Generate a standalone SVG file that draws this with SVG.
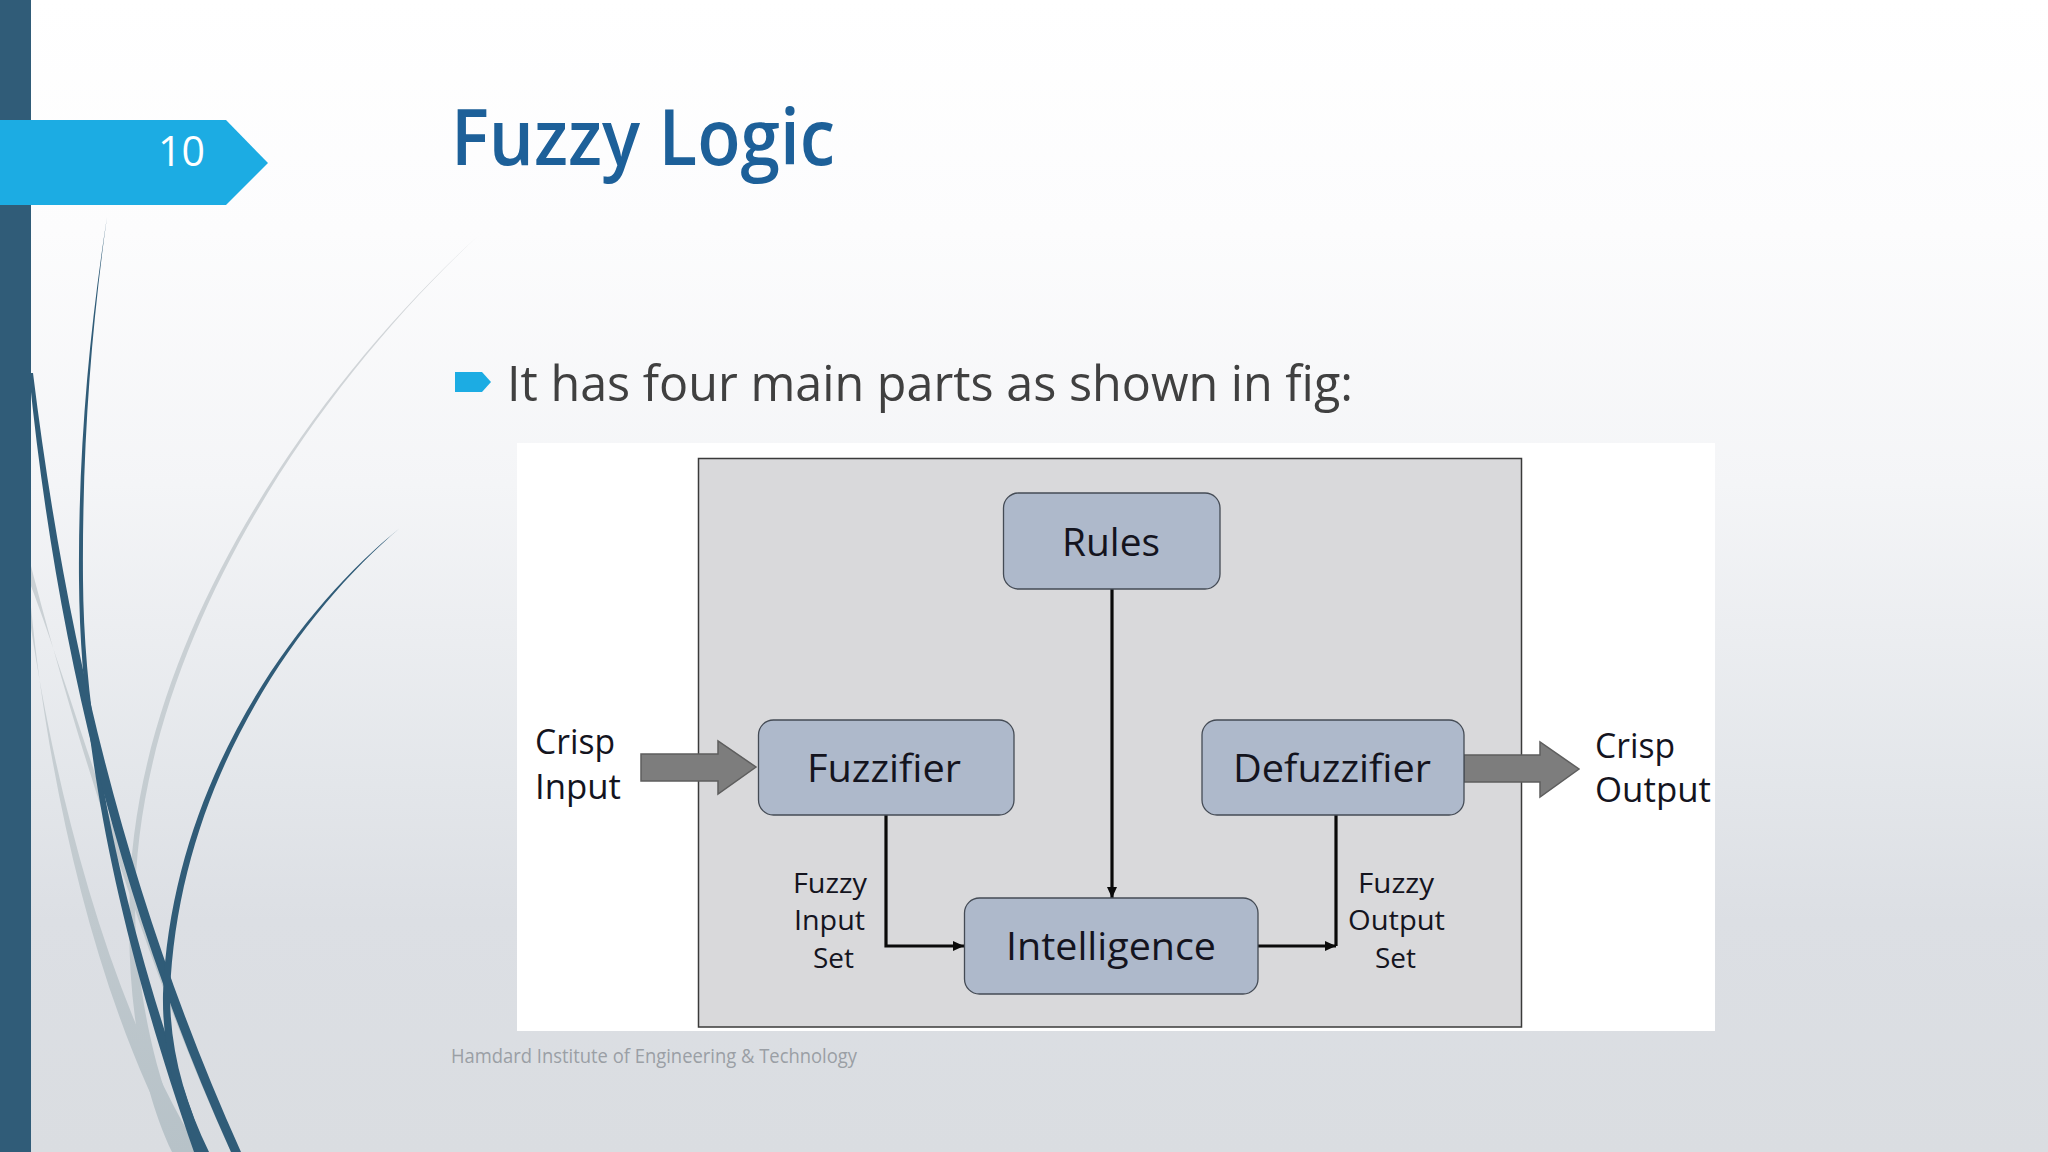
<svg xmlns="http://www.w3.org/2000/svg" width="2048" height="1152" viewBox="0 0 2048 1152">
<style>
text{font-family:"Open Sans","Noto Sans","Liberation Sans",sans-serif}
.box{fill:#aeb9cb;stroke:#444b55;stroke-width:1.3}
.lbl{fill:#14141e}
.big{font-size:38px}
.mid{font-size:34px}
.sm{font-size:28px}
.wire{fill:none;stroke:#0a0a0a;stroke-width:3.2}
.dark{fill:#305c78}
.grey{fill:url(#gr)}
.fat{fill:#7d7d7d;stroke:#5e5e5e;stroke-width:1.5}
</style>
<defs>
<linearGradient id="bg" x1="0" y1="0" x2="0" y2="1">
<stop offset="0" stop-color="#ffffff"/><stop offset=".2" stop-color="#fcfcfd"/><stop offset=".42" stop-color="#f4f5f7"/><stop offset=".68" stop-color="#e3e6ea"/><stop offset=".8" stop-color="#dcdfe4"/><stop offset="1" stop-color="#dadde1"/>
</linearGradient>
<linearGradient id="gr" gradientUnits="userSpaceOnUse" x1="0" y1="236" x2="0" y2="1152">
<stop offset="0" stop-color="#d4d7da"/><stop offset=".5" stop-color="#c8cfd3"/><stop offset="1" stop-color="#b7c2c8"/>
</linearGradient>
<marker id="ah" markerUnits="userSpaceOnUse" markerWidth="12" markerHeight="12" refX="11" refY="6" orient="auto"><path d="M0 1L11 6L0 11Z" fill="#0a0a0a"/></marker>
</defs>
<rect id="background" width="2048" height="1152" fill="url(#bg)"/>
<g id="wisps">
<path class="grey" d="M478.500 235.500C309 390 129 650 129.500 909C127 1000 142 1090 172 1152L190 1152C158 1090 137 1000 135 909C135 650 312 390 478.500 235.500Z"/>
<path class="grey" d="M31 566C63 690 138 950 231 1152L240 1152C145 950 71 690 31 586Z"/>
<path class="grey" d="M31 607C48 780 95 1000 180 1152L200 1152C106 1000 54 780 31 628Z"/>
<path class="dark" d="M107 217C89.500 330 78 450 79 580C80 720 106 900 194 1152L206 1152C114 900 84 720 83 580C82 450 91 330 107 217Z"/>
<path class="dark" d="M29 373C55 633 114 892 231 1152L241 1152C124 892 65 633 33 373Z"/>
<path class="dark" d="M400 528C298.500 609 171.500 780 163 994C162 1050 176 1100 197 1152L209 1152C184 1100 170 1050 170 994C178 780 301.500 611 400 528Z"/>
</g>
<rect id="side-bar" width="31" height="1152" fill="#305c78"/>
<g id="page-tag">
<path d="M0 120H226L268 163L226 205H0Z" fill="#1cace3"/>
<text x="158" y="166" font-size="42" fill="#ffffff" textLength="47" lengthAdjust="spacingAndGlyphs">10</text>
</g>
<text id="title" x="451" y="165" font-size="78" font-weight="600" fill="#1d6099" textLength="384" lengthAdjust="spacingAndGlyphs">Fuzzy Logic</text>
<g id="bullet">
<path d="M455 372H482L491 382L482 392H455Z" fill="#1cace3"/>
<text x="507" y="401" font-size="49" fill="#404040" textLength="846" lengthAdjust="spacingAndGlyphs">It has four main parts as shown in fig:</text>
</g>
<rect id="figure-ground" x="517" y="443" width="1198" height="588" fill="#ffffff"/>
<rect id="panel" x="698.500" y="458.500" width="823" height="568.500" fill="#d9d9db" stroke="#3a3a3a" stroke-width="1.5"/>
<g id="connectors">
<path class="wire" d="M1112 589V898" marker-end="url(#ah)"/>
<path class="wire" d="M886 815V946H964" marker-end="url(#ah)"/>
<path class="wire" d="M1258 946H1336" marker-end="url(#ah)"/>
<path class="wire" d="M1336 815V946"/>
<path class="fat" d="M641 754H718V741L756 767L718 794V781H641Z"/>
<path class="fat" d="M1464 755H1540V742L1579 769L1540 797V782H1464Z"/>
</g>
<g id="rules"><rect class="box" x="1003.500" y="493" width="216.500" height="96" rx="15"/><text class="lbl big" x="1062" y="556" textLength="98" lengthAdjust="spacingAndGlyphs">Rules</text></g>
<g id="fuzzifier"><rect class="box" x="758.500" y="720" width="255.500" height="95" rx="15"/><text class="lbl big" x="807" y="782" textLength="154" lengthAdjust="spacingAndGlyphs">Fuzzifier</text></g>
<g id="defuzzifier"><rect class="box" x="1202" y="720" width="262" height="95" rx="15"/><text class="lbl big" x="1233" y="782" textLength="198" lengthAdjust="spacingAndGlyphs">Defuzzifier</text></g>
<g id="intelligence"><rect class="box" x="964.500" y="898" width="293.500" height="96" rx="15"/><text class="lbl big" x="1006" y="960" textLength="210" lengthAdjust="spacingAndGlyphs">Intelligence</text></g>
<g id="labels">
<text class="lbl mid" x="535" y="754" textLength="80" lengthAdjust="spacingAndGlyphs">Crisp</text>
<text class="lbl mid" x="535" y="799" textLength="86" lengthAdjust="spacingAndGlyphs">Input</text>
<text class="lbl mid" x="1595" y="758" textLength="80" lengthAdjust="spacingAndGlyphs">Crisp</text>
<text class="lbl mid" x="1595" y="802" textLength="116" lengthAdjust="spacingAndGlyphs">Output</text>
<text class="lbl sm" x="793" y="893" textLength="74" lengthAdjust="spacingAndGlyphs">Fuzzy</text>
<text class="lbl sm" x="794" y="930" textLength="71" lengthAdjust="spacingAndGlyphs">Input</text>
<text class="lbl sm" x="813" y="968" textLength="41" lengthAdjust="spacingAndGlyphs">Set</text>
<text class="lbl sm" x="1358" y="893" textLength="76" lengthAdjust="spacingAndGlyphs">Fuzzy</text>
<text class="lbl sm" x="1348" y="930" textLength="97" lengthAdjust="spacingAndGlyphs">Output</text>
<text class="lbl sm" x="1375" y="968" textLength="41" lengthAdjust="spacingAndGlyphs">Set</text>
</g>
<text id="footer" x="451" y="1063" font-size="20" fill="#9a9fa5" textLength="406" lengthAdjust="spacingAndGlyphs">Hamdard Institute of Engineering &amp; Technology</text>
</svg>
